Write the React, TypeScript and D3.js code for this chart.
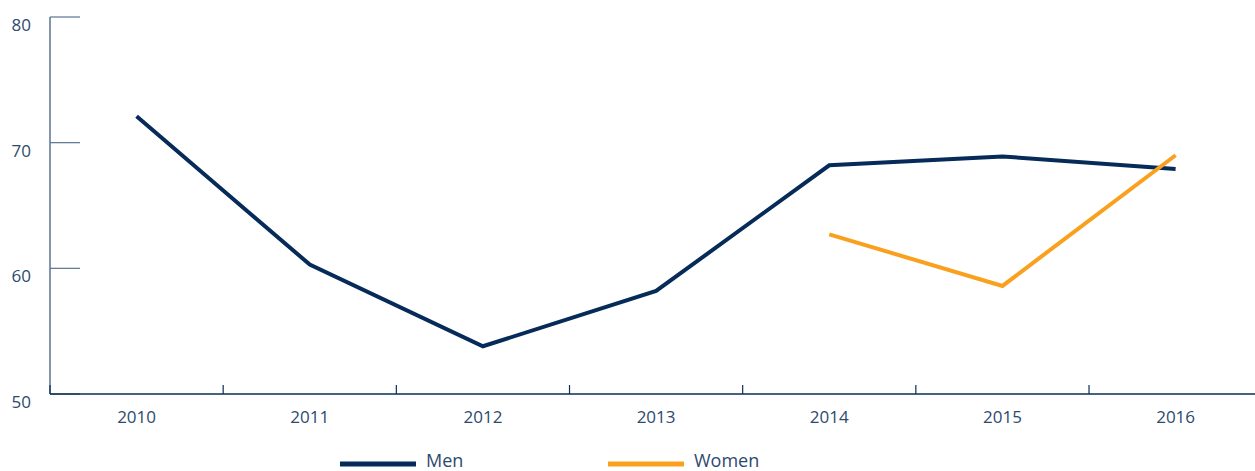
import React, { useEffect, useRef } from "react";
import * as d3 from "d3";

const years = ["2010", "2011", "2012", "2013", "2014", "2015", "2016"];
const menValues = [72.1, 60.3, 53.8, 58.2, 68.2, 68.9, 67.9];
const womenYears = ["2014", "2015", "2016"];
const womenValues = [62.7, 58.6, 69.0];
const yTicks = [50, 60, 70, 80];

const W = 1255;
const H = 471;

export default function App() {
  const ref = useRef<SVGSVGElement>(null);
  useEffect(() => {
    const svg = d3.select(ref.current);
    svg.selectAll("*").remove();
    const font = "'Open Sans', 'Noto Sans', sans-serif";
    const x = d3.scaleBand<string>().domain(years).range([50, 50 + 7 * 173.17]).padding(0);
    const y = d3.scaleLinear().domain([50, 80]).range([394, 17]);
    const cx = (d: string) => (x(d) as number) + x.bandwidth() / 2;

    // y axis
    svg.append("line").attr("x1", 50).attr("x2", 50).attr("y1", 17).attr("y2", 394)
      .attr("stroke", "#5b7391").attr("stroke-width", 1.5);
    yTicks.forEach((t) => {
      svg.append("line").attr("x1", 50).attr("x2", 80).attr("y1", y(t)).attr("y2", y(t))
        .attr("stroke", "#5b7391").attr("stroke-width", 1.2);
      svg.append("text").attr("x", 31).attr("y", y(t) + 14).attr("text-anchor", "end")
        .attr("font-family", font).attr("font-size", 17).attr("fill", "#2b4a6e").text(String(t));
    });

    // x axis
    svg.append("line").attr("x1", 50).attr("x2", W).attr("y1", 394).attr("y2", 394)
      .attr("stroke", "#0b2c57").attr("stroke-width", 1.5);
    years.forEach((yr) => {
      const bx = x(yr) as number;
      svg.append("line").attr("x1", bx).attr("x2", bx).attr("y1", 385).attr("y2", 394)
        .attr("stroke", "#0b2c57").attr("stroke-width", 1.2);
      svg.append("text").attr("x", cx(yr)).attr("y", 423).attr("text-anchor", "middle")
        .attr("font-family", font).attr("font-size", 17).attr("fill", "#2b4a6e").text(yr);
    });

    const line = d3.line<[string, number]>().x((d) => cx(d[0])).y((d) => y(d[1]));
    svg.append("path").datum(years.map((yr, i) => [yr, menValues[i]] as [string, number]))
      .attr("d", line).attr("fill", "none").attr("stroke", "#062b59").attr("stroke-width", 4)
      .attr("stroke-linejoin", "miter");
    svg.append("path").datum(womenYears.map((yr, i) => [yr, womenValues[i]] as [string, number]))
      .attr("d", line).attr("fill", "none").attr("stroke", "#f9a11f").attr("stroke-width", 4)
      .attr("stroke-linejoin", "miter");

    // legend
    const legend = [
      { label: "Men", color: "#062b59", x: 340 },
      { label: "Women", color: "#f9a11f", x: 608 },
    ];
    legend.forEach((l) => {
      svg.append("line").attr("x1", l.x).attr("x2", l.x + 76).attr("y1", 464).attr("y2", 464)
        .attr("stroke", l.color).attr("stroke-width", 5);
      svg.append("text").attr("x", l.x + 86).attr("y", 467).attr("font-family", font)
        .attr("font-size", 18).attr("fill", "#2b4a6e").text(l.label);
    });
  }, []);
  return (
    <svg ref={ref} width={W} height={H}
      style={{ position: "absolute", left: 0, top: 0, display: "block", background: "#fff" }} />
  );
}
